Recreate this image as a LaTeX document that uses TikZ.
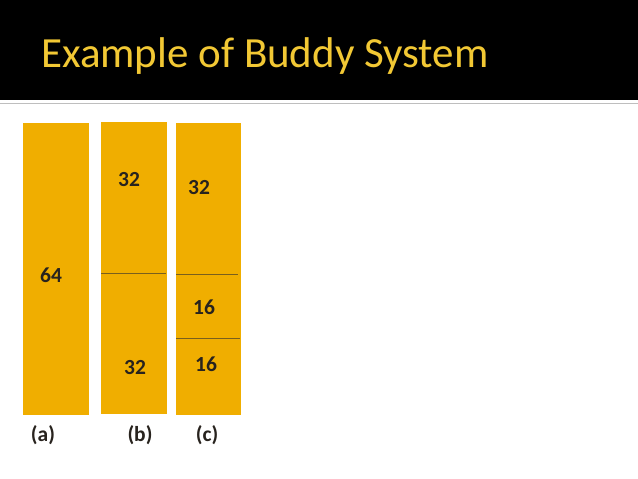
\documentclass[tikz,border=0pt]{standalone}
\usepackage{fontspec}
\setmainfont{Carlito}
\definecolor{titleyel}{RGB}{242,200,52}
\definecolor{blockfill}{RGB}{240,174,0}
\definecolor{divline}{RGB}{120,95,30}
\definecolor{labtxt}{RGB}{40,35,30}
\definecolor{rulegray}{RGB}{190,190,190}
\begin{document}
\begin{tikzpicture}[x=1pt,y=-1pt,
  block/.style={fill=blockfill,draw=none},
  divider/.style={draw=divline,line width=0.9pt},
  num/.style={font=\fontsize{21.5}{24}\selectfont\bfseries,text=labtxt,inner sep=0pt,anchor=center},
  caplabel/.style={font=\fontsize{21.5}{24}\selectfont\bfseries,text=labtxt,inner sep=0pt,anchor=center}]
\useasboundingbox (0,0) rectangle (638,479);
\fill[white] (0,0) rectangle (638,479);
\fill[black] (0,0) rectangle (638,100);
\draw[rulegray,line width=1.5pt] (0,103.5) -- (638,103.5);
\node[anchor=base west,inner sep=0pt,text=titleyel,font=\fontsize{43}{48}\selectfont] (title) at (41,67) {Example of Buddy System};
% column a
\path[block] (23,123) rectangle (89,415);
% column b
\path[block] (101,122) rectangle (167,414);
\coordinate (bl) at (101,273); \coordinate (br) at (166,273);
\draw[divider] (bl) -- (br);
% column c
\path[block] (176,123) rectangle (241,415);
\coordinate (cl1) at (176,274); \coordinate (cr1) at (238,274);
\coordinate (cl2) at (176,338); \coordinate (cr2) at (240,338);
\draw[divider] (cl1) -- (cr1);
\draw[divider] (cl2) -- (cr2);
% numbers
\node[num] (n64) at (51,275) {64};
\node[num] (b32a) at (129,180) {32};
\node[num] (b32b) at (135,368) {32};
\node[num] (c32) at (199,188) {32};
\node[num] (c16a) at (204,307) {16};
\node[num] (c16b) at (206,364) {16};
% captions
\node[caplabel] (la) at (43,435) {(a)};
\node[caplabel] (lb) at (140,435) {(b)};
\node[caplabel] (lc) at (207,435) {(c)};
\end{tikzpicture}
\end{document}
